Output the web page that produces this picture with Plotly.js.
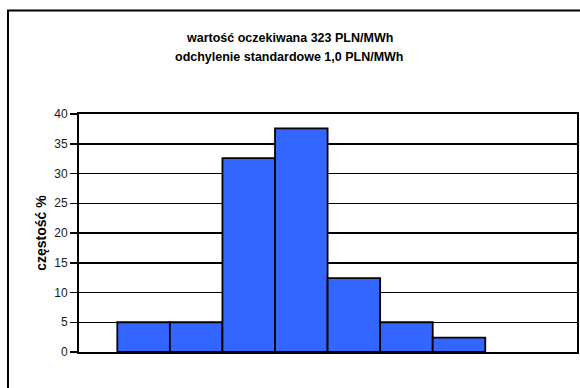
<!DOCTYPE html>
<html>
<head>
<meta charset="utf-8">
<script src="https://cdn.plot.ly/plotly-3.0.1.min.js"></script>
<style>html,body{margin:0;padding:0;background:#fff;}#chart{width:580px;height:388px;}</style>
</head>
<body>
<div id="chart"></div>
<script>
// Data
const binValues = [320, 321, 322, 323, 324, 325, 326];   // bin centres (PLN/MWh), labels hidden in reference
const frequencyPct = [5.0, 5.0, 32.6, 37.6, 12.4, 5.0, 2.4];
const titleLines = ["wartość oczekiwana 323 PLN/MWh", "odchylenie standardowe 1,0 PLN/MWh"];
const yAxisTitle = "częstość %";

const trace = {
  type: 'bar',
  x: binValues,
  y: frequencyPct,
  width: 1,
  marker: {color: '#3366FF', line: {color: '#000000', width: 1.8}},
  hoverinfo: 'x+y'
};

const FONT = '"Liberation Sans", Arial, sans-serif';

const layout = {
  width: 580, height: 388,
  margin: {l: 79, r: 3, t: 114, b: 36, pad: 0},
  paper_bgcolor: '#ffffff',
  plot_bgcolor: '#ffffff',
  showlegend: false,
  bargap: 0,
  font: {family: FONT, color: '#000000', size: 12},
  xaxis: {
    range: [318.771, 328.245],
    showticklabels: false,
    ticks: '',
    showgrid: false,
    zeroline: false,
    showline: true, mirror: true, linecolor: '#000000', linewidth: 2,
    fixedrange: true
  },
  yaxis: {
    range: [0, 40],
    dtick: 5, tick0: 0,
    ticks: 'outside', ticklen: 7, tickwidth: 1.5, tickcolor: '#000000',
    tickfont: {family: FONT, size: 12, color: '#1a1a1a'},
    showgrid: true, gridcolor: '#000000', gridwidth: 1.5,
    zeroline: false,
    showline: true, mirror: true, linecolor: '#000000', linewidth: 2,
    title: {text: yAxisTitle, font: {family: FONT, size: 14, color: '#000000', weight: 'bold'}, standoff: 4},
    automargin: false,
    fixedrange: true
  },
  annotations: [
    {text: '<b>' + titleLines[0] + '</b>', xref: 'paper', yref: 'paper', x: 0.4217, y: 1.3212,
     xanchor: 'center', yanchor: 'middle', showarrow: false, font: {family: FONT, size: 12.5, color: '#000000'}},
    {text: '<b>' + titleLines[1] + '</b>', xref: 'paper', yref: 'paper', x: 0.4217, y: 1.2414,
     xanchor: 'center', yanchor: 'middle', showarrow: false, font: {family: FONT, size: 12.5, color: '#000000'}}
  ],
  shapes: [
    {type: 'rect', xref: 'paper', yref: 'paper', x0: -0.1426, x1: 1.2, y0: -0.5, y1: 1.4345,
     line: {color: '#000000', width: 2}, fillcolor: 'rgba(0,0,0,0)', layer: 'below'}
  ]
};

Plotly.newPlot('chart', [trace], layout, {displayModeBar: false, staticPlot: true});
</script>
</body>
</html>
